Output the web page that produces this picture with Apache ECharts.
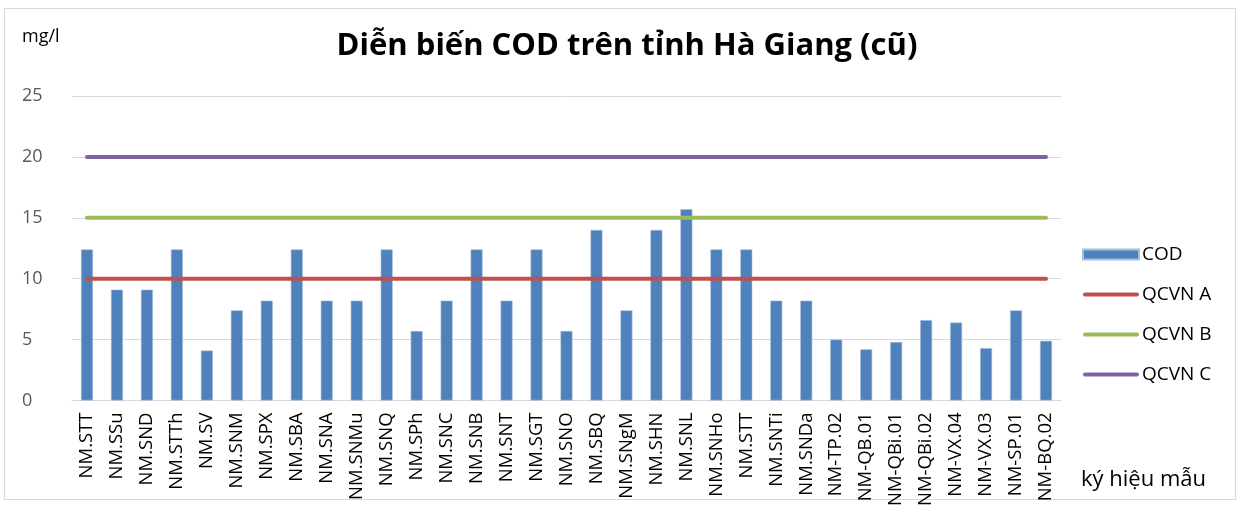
<!DOCTYPE html>
<html>
<head>
<meta charset="utf-8">
<script src="https://cdn.jsdelivr.net/npm/echarts@6/dist/echarts.min.js"></script>
<style type="text/css">
html, body { margin:0; padding:0; background:#fff; }
#frame { position:absolute; left:4px; top:8px; width:1230px; height:490px; border:1px solid #d9d9d9; }
#chart { position:absolute; left:0; top:0; width:1241px; height:509px; }
</style>
</head>
<body>
<div id="frame"></div>
<div id="chart"></div>
<script type="text/javascript">
// ky hieu mau
var categories = ['NM.STT','NM.SSu','NM.SND','NM.STTh','NM.SV','NM.SNM','NM.SPX','NM.SBA','NM.SNA','NM.SNMu',
    'NM.SNQ','NM.SPh','NM.SNC','NM.SNB','NM.SNT','NM.SGT','NM.SNO','NM.SBQ','NM.SNgM','NM.SHN',
    'NM.SNL','NM.SNHo','NM.STT','NM.SNTi','NM.SNDa','NM-TP.02','NM-QB.01','NM-QBi.01','NM-QBi.02','NM-VX.04',
    'NM-VX.03','NM-SP.01','NM-BQ.02'];
var cod = [12.4, 9.1, 9.1, 12.4, 4.1, 7.4, 8.2, 12.4, 8.2, 8.2,
    12.4, 5.7, 8.2, 12.4, 8.2, 12.4, 5.7, 14.0, 7.4, 14.0,
    15.7, 12.4, 12.4, 8.2, 8.2, 5.0, 4.2, 4.8, 6.6, 6.4,
    4.3, 7.4, 4.9];
// gioi han QCVN
var qcvnA = 10;
var qcvnB = 15;
var qcvnC = 20;
var yTicks = [0, 5, 10, 15, 20, 25];

function flat(v) { return categories.map(function(){ return v; }); }

var font = '"Open Sans", "Noto Sans", sans-serif';
var lineIcon = 'path://M2,0 L54,0 A2,2 0 0 1 54,4 L2,4 A2,2 0 0 1 2,0 Z';
var myChart = echarts.init(document.getElementById('chart'));
var option = {
    animation: false,
    title: {
        text: 'Diễn biến COD trên tỉnh Hà Giang (cũ)',
        left: 622, top: 26, textAlign: 'center',
        textStyle: { fontFamily: font, fontSize: 31, fontWeight: 'bold', color: '#000' }
    },
    legend: {
        orient: 'vertical',
        left: 1077, top: 240,
        itemGap: 21,
        itemWidth: 56, itemHeight: 10,
        textStyle: { fontFamily: font, fontSize: 19, color: '#000', padding: [0, 0, 0, -2] },
        data: [
            { name: 'COD', icon: 'rect' },
            { name: 'QCVN A', icon: lineIcon },
            { name: 'QCVN B', icon: lineIcon },
            { name: 'QCVN C', icon: lineIcon }
        ]
    },
    grid: { left: 72, right: 180, top: 96, bottom: 108 },
    xAxis: {
        type: 'category',
        data: categories,
        name: 'ký hiệu mẫu',
        nameLocation: 'end',
        nameGap: 20,
        nameTextStyle: { fontFamily: font, fontSize: 22, color: '#000', verticalAlign: 'top', padding: [68, 0, 0, 0] },
        axisLine: { lineStyle: { color: '#d9d9d9', width: 1 } },
        axisTick: { show: false },
        axisLabel: { rotate: 90, interval: 0, fontFamily: font, fontSize: 18.5, color: '#000', margin: 12 }
    },
    yAxis: {
        type: 'value',
        min: 0, max: 25, interval: 5,
        name: 'mg/l',
        nameLocation: 'end',
        nameGap: 50,
        nameTextStyle: { fontFamily: font, fontSize: 18, color: '#000', align: 'left', padding: [0, 0, 0, -50] },
        axisLine: { show: false },
        axisTick: { show: false },
        axisLabel: { fontFamily: font, fontSize: 18, color: '#595959', margin: 50, align: 'left',
            formatter: function (v) { return yTicks.indexOf(v) >= 0 ? String(v) : ''; } },
        splitLine: { lineStyle: { color: '#d9d9d9', width: 1 } }
    },
    series: [
        {
            name: 'COD', type: 'bar', data: cod, barWidth: '40%',
            itemStyle: { color: '#4F81BD', borderColor: '#a7c0de', borderWidth: 0.6 }
        },
        {
            name: 'QCVN A', type: 'line', data: flat(qcvnA), symbol: 'none',
            lineStyle: { color: '#C0504D', width: 4, cap: 'round' }, itemStyle: { color: '#C0504D' }
        },
        {
            name: 'QCVN B', type: 'line', data: flat(qcvnB), symbol: 'none',
            lineStyle: { color: '#9BBB59', width: 4, cap: 'round' }, itemStyle: { color: '#9BBB59' }
        },
        {
            name: 'QCVN C', type: 'line', data: flat(qcvnC), symbol: 'none',
            lineStyle: { color: '#8064A2', width: 4, cap: 'round' }, itemStyle: { color: '#8064A2' }
        }
    ]
};
myChart.setOption(option);
</script>
</body>
</html>
